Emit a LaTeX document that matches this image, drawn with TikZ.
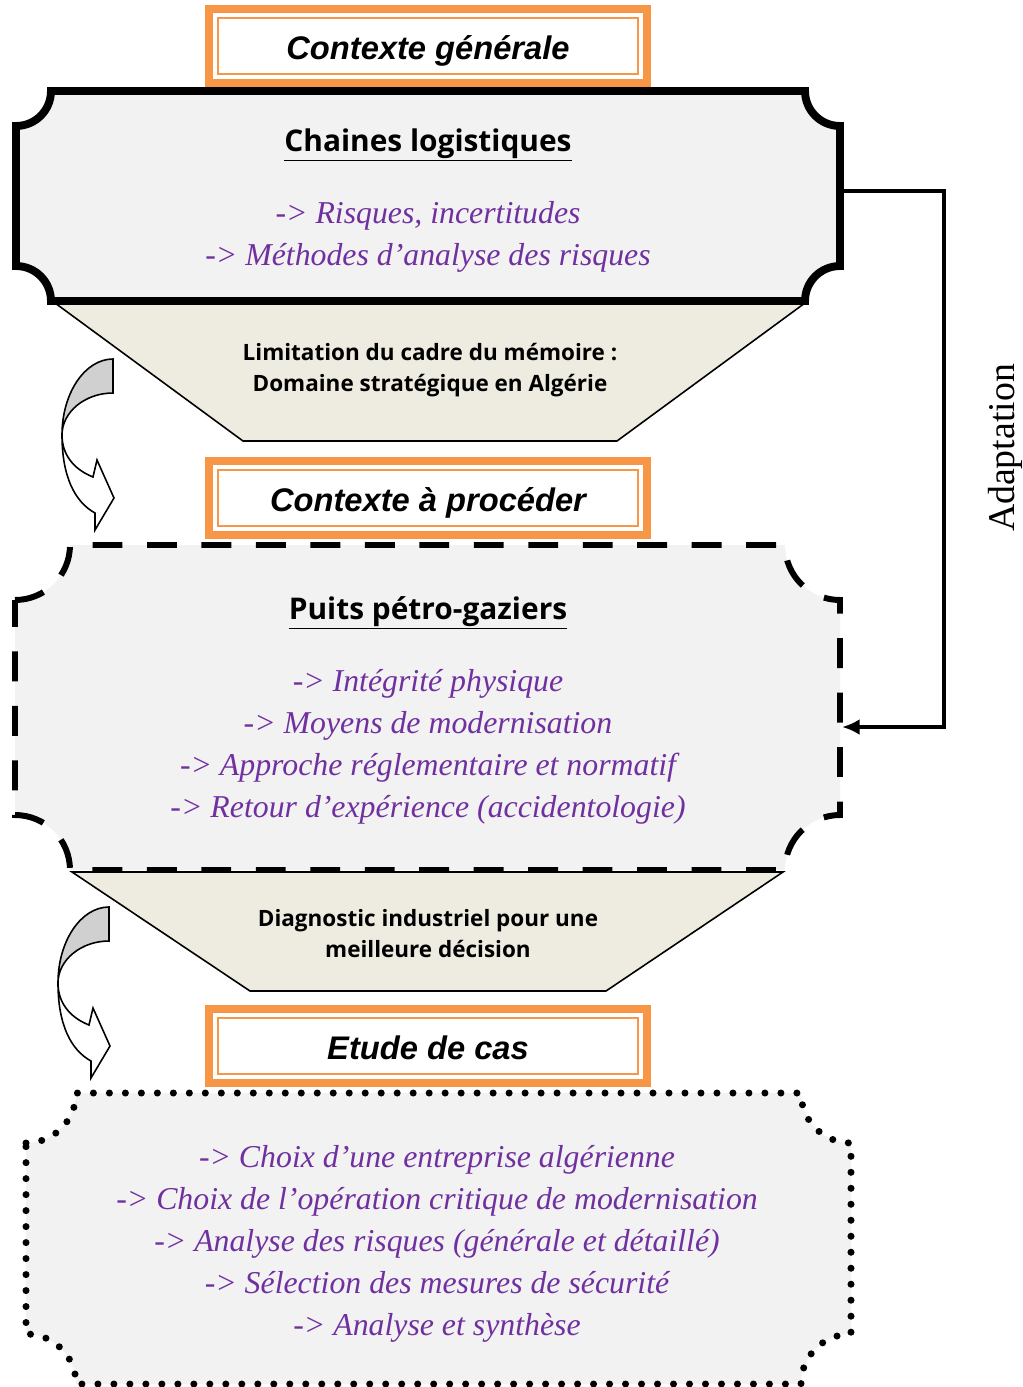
\documentclass[tikz,border=0pt]{standalone}
\usepackage{fontspec}
\setmainfont{Liberation Serif}
\newfontfamily\titlefont{Liberation Sans}
\newfontfamily\headfont{Open Sans}
\usetikzlibrary{arrows.meta}

\definecolor{orangeline}{HTML}{F79646}
\definecolor{purpletext}{HTML}{7030A0}
\definecolor{boxgray}{HTML}{F2F2F2}
\definecolor{trapbeige}{HTML}{EEECE1}
\definecolor{arrowgray}{HTML}{D0D0D0}

% box with hollow round corners: x1,y1,x2,y2,radius
\newcommand{\plaque}[5]{(#1,#2+#5) arc (90:0:#5) -- (#3-#5,#2) arc (180:90:#5)
  -- (#3,#4-#5) arc (270:180:#5) -- (#1+#5,#4) arc (0:-90:#5) -- cycle}

\tikzset{
  pics/bendarrow/.style={code={
    \draw[fill=arrowgray] (0,0) .. controls (-28,0) and (-51,34) .. (-51,76)
      .. controls (-51,53) and (-28,34) .. (0,34) -- cycle;
    \draw[fill=white] (-51,76) .. controls (-51,118) and (-38,143) .. (-18,154)
      -- (-18,171) -- (1,139) -- (-16,101) -- (-20,118)
      .. controls (-40,110) and (-51,95) .. (-51,76) -- cycle;
  }}
}

\begin{document}
\begin{tikzpicture}[x=0.02cm,y=-0.02cm,
    titlebox/.style={draw=orangeline,line width=4.5pt,fill=white,inner sep=0pt,outer sep=0pt,
      minimum width=8.76cm,minimum height=1.48cm,text height=17pt,text depth=1.2pt,
      font=\titlefont\bfseries\itshape\fontsize{18.6}{22}\selectfont},
    titleline/.style={draw=orangeline,line width=1.4pt},
    headtext/.style={font=\headfont\bfseries\fontsize{17}{20}\selectfont},
    itemtext/.style={align=center,text=purpletext,
      font=\itshape\fontsize{18.1}{23.9}\selectfont},
    trap/.style={draw,fill=trapbeige,line width=0.9pt},
    traptext/.style={align=center,font=\headfont\bfseries\fontsize{12.8}{17.6}\selectfont},
    adapt/.style={draw,line width=2.3pt,-{Latex[length=10pt,width=9pt]}},
    every pic/.style={line width=0.9pt}]
  \path[use as bounding box,fill=white] (0,0) rectangle (1023,1387);

  % funnels
  \draw[trap] (55,303) -- (805,303) -- (617,441) -- (243,441) -- cycle;
  \draw[trap] (72,872) -- (783,872) -- (606,991) -- (250,991) -- cycle;

  % the three boxes
  \draw[line width=4.5pt,fill=boxgray] \plaque{16}{91}{840}{301}{35};
  \draw[line width=3.4pt,fill=boxgray,dash pattern=on 17pt off 14pt] \plaque{15}{545}{840}{870}{55};
  \draw[line width=4pt,fill=boxgray,line cap=round,dash pattern=on 0pt off 9.1pt] \plaque{26}{1093}{851}{1384}{50};

  % titles
  \node[titlebox] (ctxgen) at (428,46) {Contexte générale};
  \node[titlebox] (ctxproc) at (428,498) {Contexte à procéder};
  \node[titlebox] (etude) at (428,1046) {Etude de cas};
  \foreach \n in {ctxgen,ctxproc,etude}
    \draw[titleline] ([shift={(9,9)}]\n.north west) rectangle ([shift={(-9,-9)}]\n.south east);

  \node[headtext] (chaines) at (428,145) {\underline{Chaines logistiques}};
  \node[itemtext] (risques) at (428,237) {-> Risques, incertitudes\\-> Méthodes d’analyse des risques};

  \node[traptext] (limit) at (430,370) {Limitation du cadre du mémoire :\\Domaine stratégique en Algérie};

  \node[headtext] (puits) at (428,613) {\underline{Puits pétro-gaziers}};
  \node[itemtext] (integ) at (428,747) {-> Intégrité physique\\-> Moyens de modernisation\\
    -> Approche réglementaire et normatif\\-> Retour d’expérience (accidentologie)};

  \node[traptext] (diag) at (428,934) {Diagnostic industriel pour une\\meilleure décision};

  \node[itemtext] (choix) at (437,1244) {-> Choix d’une entreprise algérienne\\
    -> Choix de l’opération critique de modernisation\\
    -> Analyse des risques (générale et détaillé)\\
    -> Sélection des mesures de sécurité\\-> Analyse et synthèse};

  % side arrows
  \pic at (113,359) {bendarrow};
  \pic at (109,907) {bendarrow};

  % adaptation loop
  \coordinate (b1out) at (840,191);
  \coordinate (b2in) at (842,727);
  \draw[adapt] (b1out) -- ++(104,0) |- (b2in);
  \node[rotate=90,font=\fontsize{21.5}{24}\selectfont] (adapttxt) at (1005,448) {Adaptation};
\end{tikzpicture}
\end{document}
